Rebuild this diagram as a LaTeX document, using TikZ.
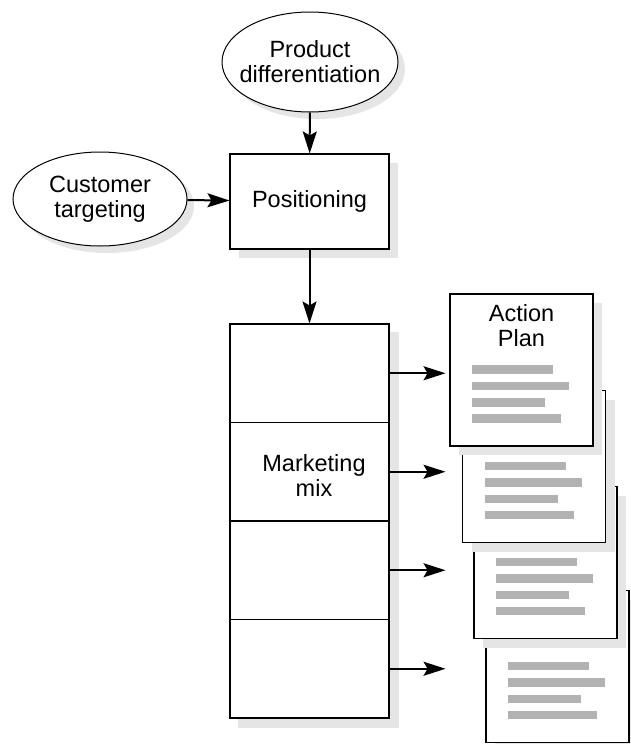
\documentclass[tikz,border=0pt]{standalone}
\usepackage{fontspec}
\setmainfont{Liberation Sans}
\usepackage{tikz}
\usetikzlibrary{shapes.geometric, shadows, arrows.meta, backgrounds}

\begin{document}
\begin{tikzpicture}[x=1pt, y=-1pt,
    font=\fontsize{23.5}{25}\selectfont,
    softshadow/.style={drop shadow={shadow xshift=#1, shadow yshift=-#1, fill=black!10, opacity=1}},
    oval/.style={ellipse, draw, line width=1pt, fill=white, align=center, inner xsep=-8.5pt, inner ysep=0pt, softshadow=7pt},
    box/.style={draw, line width=1.1pt, fill=white, minimum width=159pt, minimum height=95pt, softshadow=9pt},
    cell/.style={draw, line width=1.1pt, fill=white, minimum width=159pt, minimum height=98.5pt},
    sheet/.style={draw, line width=1.2pt, fill=white, minimum width=143pt, minimum height=152pt, softshadow=9pt},
    bar/.style={fill=black!30},
    flow/.style={-{Stealth[length=22pt, width=14pt, inset=4pt]}, line width=2pt}]

    \useasboundingbox (0,0) rectangle (630,744);

    % Inputs
    \node[oval, minimum width=176pt, minimum height=100pt] (prod) at (310,62) {Product\\differentiation};
    \node[oval, minimum width=174pt, minimum height=94pt] (cust) at (100,199) {Customer\\targeting};

    % Positioning
    \node[box] (pos) at (309.5,201.5) {Positioning};

    % Marketing mix column
    \foreach \i in {1,...,4}
        \node[cell] (cell\i) at (309.5, 324+98.5*\i-49.25) {};
    \begin{scope}[on background layer]
        \fill[black!10] ([shift={(9,9)}]cell1.north west) rectangle ([shift={(9,9)}]cell4.south east);
    \end{scope}
    \node[align=center] (mix) at ([xshift=4.5pt, yshift=-4pt]cell2.center) {Marketing\\mix};

    % Action plan sheets, back to front
    \foreach \n/\cx/\cy in {4/557.5/666.5, 3/545.5/562.5, 2/534/466.5, 1/521.5/370} {
        \node[sheet] (page\n) at (\cx,\cy) {};
        \foreach \len [count=\k from 0] in {81,97,73,89}
            \fill[bar] ([xshift=23pt, yshift={-72pt-16.3pt*\k}]page\n.north west) rectangle ++(\len,8.5);
    }
    \node[anchor=north, align=center] (title) at ([yshift=-7.5pt]page1.north) {Action\\Plan};

    % Arrows
    \draw[flow] (prod) -- (pos);
    \draw[flow] (cust) -- (pos);
    \draw[flow] (pos) -- (cell1);
    \foreach \i in {1,...,4} {
        \coordinate (tip\i) at ([xshift=56pt]cell\i.east);
        \draw[flow] (cell\i.east) -- (tip\i);
    }
\end{tikzpicture}
\end{document}
